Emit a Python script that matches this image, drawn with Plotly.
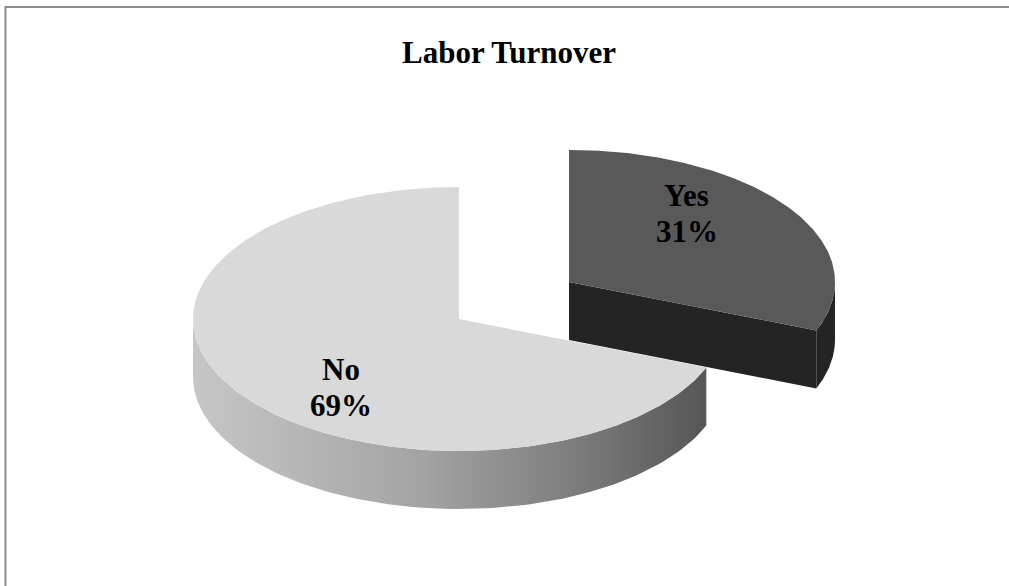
import numpy as np
import plotly.graph_objects as go

# Survey answers and their shares (%)
categories = ["Yes", "No"]
shares = [31, 69]

# Pie styling / geometry (screen units, y grows downward)
W, H = 1009, 586
CX, CY = 459, 319          # centre of the un-exploded pie top face
RX, RY = 266, 132          # ellipse radii of the top face
DEPTH = 58                 # thickness of the 3D pie
EXPLODE = [0.5, 0.0]       # radial pull of each slice (fraction of radius)
TOP_COLORS = ["#595959", "#d9d9d9"]
SIDE_COLORS = ["#242424", None]
SIDE_GRADIENT = [[0.0, "#c6c6c6"], [0.45, "#a3a3a3"], [0.75, "#7c7c7c"], [1.0, "#565656"]]
LABEL_FX, LABEL_FY = 0.535, 0.92
LINE_GAP = 36
FONT = "Liberation Serif, Times New Roman, serif"


def pt(cx, cy, deg, dz=0.0):
    t = np.radians(deg)
    return cx + RX * np.sin(t), cy - RY * np.cos(t) + dz


fig = go.Figure()
total = float(sum(shares))
start = 0.0
slices = []
for name, v, ex in zip(categories, shares, EXPLODE):
    span = 360.0 * v / total
    a, b = start, start + span
    mid = np.radians((a + b) / 2)
    cx = CX + ex * RX * np.sin(mid)
    cy = CY - ex * RY * np.cos(mid)
    slices.append((name, v, a, b, cx, cy, mid))
    start = b


def add_poly(xs, ys, color=None, gradient=None):
    kw = dict(x=list(xs) + [xs[0]], y=list(ys) + [ys[0]], mode="lines",
              fill="toself", line=dict(width=0), hoverinfo="skip", showlegend=False)
    if gradient is not None:
        kw["fillgradient"] = dict(type="horizontal", colorscale=gradient)
    else:
        kw["fillcolor"] = color
    fig.add_trace(go.Scatter(**kw))


for i, (name, v, a, b, cx, cy, mid) in enumerate(slices):
    side_col = SIDE_COLORS[i]
    grad = SIDE_GRADIENT if side_col is None else None
    # radial cut faces that face the viewer
    for ang, visible in ((b, np.sin(np.radians(b)) > 1e-6), (a, np.sin(np.radians(a)) < -1e-6)):
        if visible:
            px, py = pt(cx, cy, ang)
            add_poly([cx, px, px, cx], [cy, py, py + DEPTH, cy + DEPTH],
                     color=side_col or "#6a6a6a")
    # front rim (between 90 and 270 degrees)
    lo, hi = max(a, 90.0), min(b, 270.0)
    if hi > lo:
        th = np.linspace(lo, hi, 120)
        tx, ty = pt(cx, cy, th)
        bx, by = pt(cx, cy, th[::-1], DEPTH)
        add_poly(np.concatenate([tx, bx]), np.concatenate([ty, by]), color=side_col, gradient=grad)
    # top face
    th = np.linspace(a, b, 240)
    tx, ty = pt(cx, cy, th)
    add_poly(np.concatenate([[cx], tx]), np.concatenate([[cy], ty]), color=TOP_COLORS[i])

# data labels: category name above its percentage
for name, v, a, b, cx, cy, mid in slices:
    lx = cx + LABEL_FX * RX * np.sin(mid)
    ly = cy - LABEL_FY * RY * np.cos(mid)
    for txt, dy in ((name, -LINE_GAP / 2), (f"{v}%", LINE_GAP / 2)):
        fig.add_annotation(x=lx, y=ly + dy, text=f"<b>{txt}</b>", showarrow=False,
                           font=dict(family=FONT, size=31, color="#000000"),
                           xanchor="center", yanchor="middle")

fig.add_annotation(x=509, y=52, text="<b>Labor Turnover</b>", showarrow=False,
                   font=dict(family=FONT, size=31, color="#000000"),
                   xanchor="center", yanchor="middle")

# chart frame
fig.add_shape(type="rect", x0=5.5, y0=7, x1=W + 20, y1=H + 20,
              line=dict(color="#8c8c8c", width=2), layer="above")

fig.update_layout(
    width=W, height=H, margin=dict(l=0, r=0, t=0, b=0),
    paper_bgcolor="white", plot_bgcolor="white", showlegend=False,
    xaxis=dict(range=[0, W], visible=False, fixedrange=True),
    yaxis=dict(range=[H, 0], visible=False, fixedrange=True),
)

fig.write_html("out.html")
